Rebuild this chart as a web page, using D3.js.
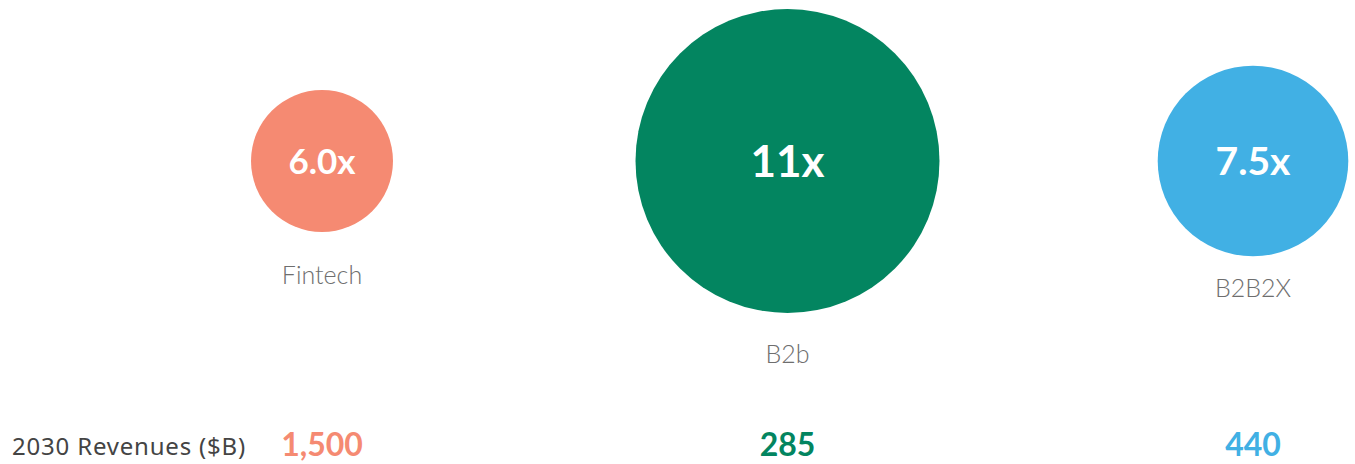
<!DOCTYPE html>
<html>
<head>
<meta charset="utf-8">
<script src="https://cdn.jsdelivr.net/npm/d3@7"></script>
<style>
  body { margin: 0; background: #fff; }
  text { font-family: Lato, 'Open Sans', sans-serif; }
</style>
</head>
<body>
<script>
// data
var categories = ['Fintech', 'B2b', 'B2B2X'];
var multiples = [6.0, 11, 7.5];
var multipleLabels = ['6.0x', '11x', '7.5x'];
var revenues = [1500, 285, 440];
var colors = ['#f58a72', '#038560', '#41b0e4'];

var width = 1355, height = 464;
var cy = 161;

var svg = d3.select('body')
  .append('svg')
  .attr('width', width)
  .attr('height', height);

var x = d3.scalePoint()
  .domain(categories)
  .range([322, 1253]);

var r = d3.scaleLinear()
  .domain([6, 11])
  .range([71, 152]);

// label size inside the bubbles grows a bit with the bubble
var fs = d3.scaleLinear()
  .domain([6, 7.5, 11])
  .range([35, 39, 44]);

var color = d3.scaleOrdinal()
  .domain(categories)
  .range(colors);

// small nudges for the category names under the bubbles
var labelGap = { Fintech: 52, B2b: 50, B2B2X: 41 };

var rows = categories.map(function (c, i) {
  return { cat: c, mult: multiples[i], label: multipleLabels[i], rev: revenues[i] };
});

var g = svg.selectAll('g.bubble')
  .data(rows)
  .enter()
  .append('g')
  .attr('class', 'bubble')
  .attr('transform', function (d) { return 'translate(' + x(d.cat) + ',' + cy + ')'; });

g.append('circle')
  .attr('r', function (d) { return r(d.mult); })
  .attr('fill', function (d) { return color(d.cat); });

g.append('text')
  .attr('text-anchor', 'middle')
  .attr('dy', '0.36em')
  .attr('fill', '#fff')
  .attr('font-weight', 700)
  .attr('font-size', function (d) { return fs(d.mult) + 'px'; })
  .text(function (d) { return d.label; });

g.append('text')
  .attr('text-anchor', 'middle')
  .attr('y', function (d) { return r(d.mult) + labelGap[d.cat]; })
  .attr('fill', '#6e6e6e')
  .attr('font-weight', 300)
  .attr('font-size', '25px')
  .text(function (d) { return d.cat; });

// bottom row
svg.append('text')
  .attr('x', 12)
  .attr('y', 455)
  .attr('fill', '#444')
  .style('font-family', "'Noto Sans', 'Open Sans', sans-serif")
  .style('letter-spacing', '0.8px')
  .attr('font-size', '24px')
  .text('2030 Revenues ($B)');

svg.selectAll('text.rev')
  .data(rows)
  .enter()
  .append('text')
  .attr('class', 'rev')
  .attr('x', function (d) { return x(d.cat); })
  .attr('y', 456)
  .attr('text-anchor', 'middle')
  .attr('font-weight', 700)
  .attr('font-size', '32px')
  .attr('fill', function (d) { return color(d.cat); })
  .text(function (d) { return d3.format(',')(d.rev); });
</script>
</body>
</html>
